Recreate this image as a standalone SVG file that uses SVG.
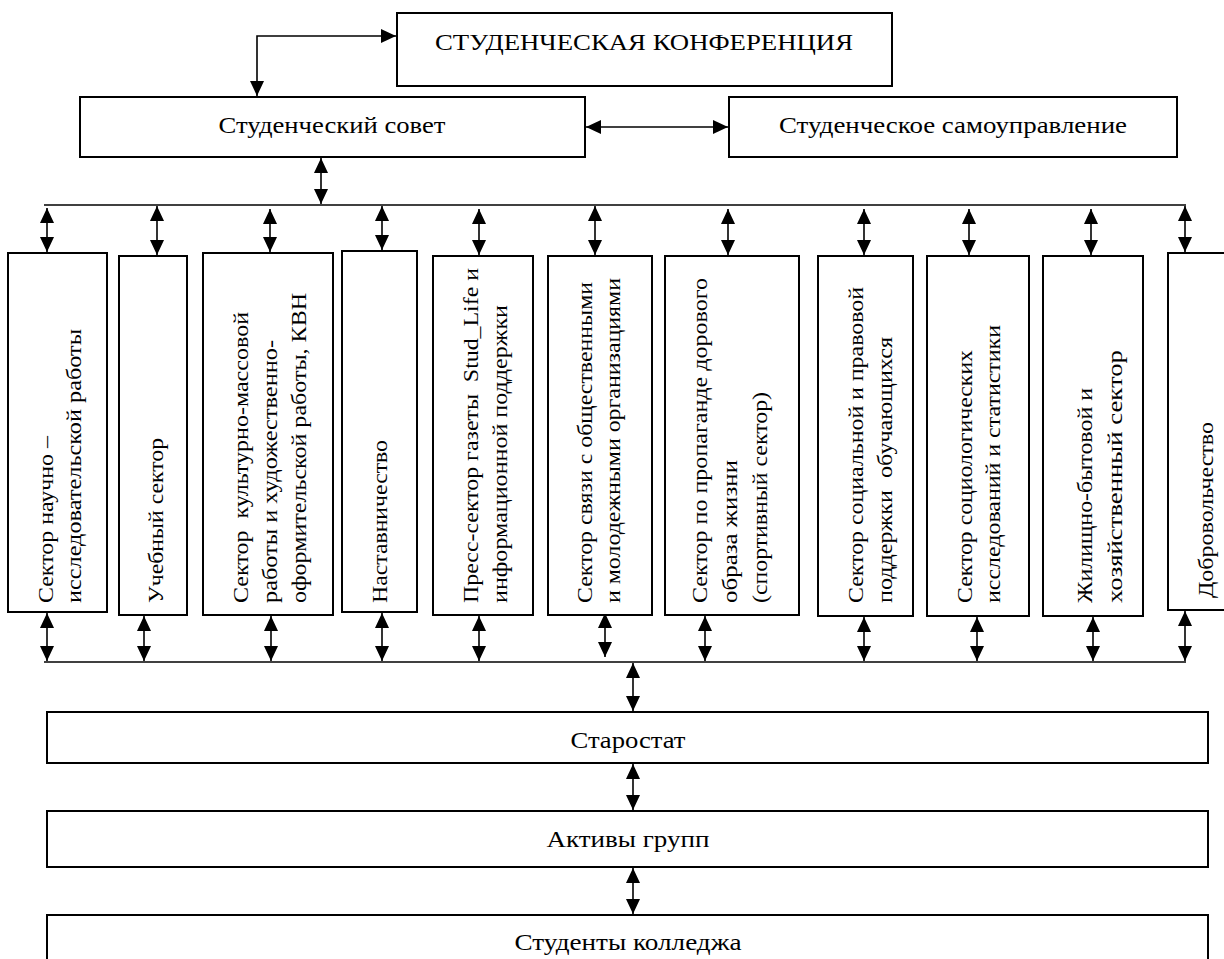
<svg xmlns="http://www.w3.org/2000/svg" width="1224" height="959" viewBox="0 0 1224 959">
<style>
.box{fill:#fff;stroke:#000;stroke-width:2}
.ln{fill:none;stroke:#000;stroke-width:1.6}
.ar{fill:none;stroke:#000;stroke-width:1.6;marker-start:url(#ah);marker-end:url(#ah)}
.h{font-family:"Liberation Serif","DejaVu Serif",serif;font-size:24px;fill:#000;text-anchor:middle}
.v{font-family:"Liberation Serif","DejaVu Serif",serif;font-size:22px;fill:#000;white-space:pre}
</style>
<defs>
<marker id="ah" markerUnits="userSpaceOnUse" viewBox="0 0 15 14" refX="15" refY="7" markerWidth="15" markerHeight="14" orient="auto-start-reverse">
<path d="M0,0 L15,7 L0,14 z" fill="#000"/>
</marker>
</defs>
<rect width="1224" height="959" fill="#fff"/>

<g id="connectors">
<path class="ar" d="M257,96 V36 H396"/>
<path class="ar" d="M586,127 H728"/>
<path class="ar" d="M321,158 V204"/>
<path class="ln" d="M44,205 H1186"/>
<path class="ar" d="M47,208 V252"/>
<path class="ar" d="M157,206 V255"/>
<path class="ar" d="M270,209 V252"/>
<path class="ar" d="M382,206 V250"/>
<path class="ar" d="M479,209 V255"/>
<path class="ar" d="M595,206 V255"/>
<path class="ar" d="M728,209 V255"/>
<path class="ar" d="M864,209 V255"/>
<path class="ar" d="M969,209 V255"/>
<path class="ar" d="M1091,209 V255"/>
<path class="ar" d="M1185,206 V252"/>
<path class="ar" d="M47,613 V661"/>
<path class="ar" d="M144,616 V661"/>
<path class="ar" d="M271,616 V661"/>
<path class="ar" d="M382,613 V661"/>
<path class="ar" d="M479,616 V661"/>
<path class="ar" d="M605,613 V657"/>
<path class="ar" d="M705,616 V661"/>
<path class="ar" d="M864,617 V661"/>
<path class="ar" d="M977,617 V661"/>
<path class="ar" d="M1093,617 V661"/>
<path class="ar" d="M1185,611 V661"/>
<path class="ln" d="M44,662 H1186"/>
<path class="ar" d="M633,663 V711"/>
<path class="ar" d="M633,764 V810"/>
<path class="ar" d="M633,868 V914"/>
</g>

<g id="n-conference">
<rect class="box" x="397" y="13" width="495" height="73"/>
<text class="h" x="644" y="50" textLength="418" lengthAdjust="spacingAndGlyphs">СТУДЕНЧЕСКАЯ КОНФЕРЕНЦИЯ</text>
</g>
<g id="n-council">
<rect class="box" x="80" y="97" width="505" height="60"/>
<text class="h" x="332" y="133" textLength="227" lengthAdjust="spacingAndGlyphs">Студенческий совет</text>
</g>
<g id="n-selfgov">
<rect class="box" x="729" y="97" width="448" height="60"/>
<text class="h" x="953" y="133" textLength="348" lengthAdjust="spacingAndGlyphs">Студенческое самоуправление</text>
</g>

<g id="n-s1">
<rect class="box" x="8" y="253" width="99" height="359"/>
<text class="v" transform="translate(53,603) rotate(-90)" textLength="167" lengthAdjust="spacingAndGlyphs">Сектор научно –</text>
<text class="v" transform="translate(81,603) rotate(-90)" textLength="274" lengthAdjust="spacingAndGlyphs">исследовательской работы</text>
</g>
<g id="n-s2">
<rect class="box" x="119" y="256" width="68" height="359"/>
<text class="v" transform="translate(163,603) rotate(-90)" textLength="165" lengthAdjust="spacingAndGlyphs">Учебный сектор</text>
</g>
<g id="n-s3">
<rect class="box" x="203" y="253" width="130" height="362"/>
<text class="v" transform="translate(248,603) rotate(-90)" textLength="291" lengthAdjust="spacingAndGlyphs">Сектор  культурно-массовой</text>
<text class="v" transform="translate(277,603) rotate(-90)" textLength="263" lengthAdjust="spacingAndGlyphs">работы и художественно-</text>
<text class="v" transform="translate(306,603) rotate(-90)" textLength="310" lengthAdjust="spacingAndGlyphs">оформительской работы, КВН</text>
</g>
<g id="n-s4">
<rect class="box" x="342" y="251" width="75" height="361"/>
<text class="v" transform="translate(387,603) rotate(-90)" textLength="163" lengthAdjust="spacingAndGlyphs">Наставничество</text>
</g>
<g id="n-s5">
<rect class="box" x="433" y="256" width="100" height="359"/>
<text class="v" transform="translate(478,603) rotate(-90)" textLength="335" lengthAdjust="spacingAndGlyphs">Пресс-сектор газеты  Stud_Life и</text>
<text class="v" transform="translate(507,603) rotate(-90)" textLength="298" lengthAdjust="spacingAndGlyphs">информационной поддержки</text>
</g>
<g id="n-s6">
<rect class="box" x="548" y="256" width="104" height="359"/>
<text class="v" transform="translate(592,603) rotate(-90)" textLength="321" lengthAdjust="spacingAndGlyphs">Сектор связи с общественными</text>
<text class="v" transform="translate(620,603) rotate(-90)" textLength="325" lengthAdjust="spacingAndGlyphs">и молодежными организациями</text>
</g>
<g id="n-s7">
<rect class="box" x="665" y="256" width="134" height="359"/>
<text class="v" transform="translate(707,603) rotate(-90)" textLength="325" lengthAdjust="spacingAndGlyphs">Сектор по пропаганде дорового</text>
<text class="v" transform="translate(737,603) rotate(-90)" textLength="143" lengthAdjust="spacingAndGlyphs">образа жизни</text>
<text class="v" transform="translate(767,603) rotate(-90)" textLength="211" lengthAdjust="spacingAndGlyphs">(спортивный сектор)</text>
</g>
<g id="n-s8">
<rect class="box" x="818" y="256" width="95" height="360"/>
<text class="v" transform="translate(863,603) rotate(-90)" textLength="316" lengthAdjust="spacingAndGlyphs">Сектор социальной и правовой</text>
<text class="v" transform="translate(892,603) rotate(-90)" textLength="266" lengthAdjust="spacingAndGlyphs">поддержки  обучающихся</text>
</g>
<g id="n-s9">
<rect class="box" x="927" y="256" width="102" height="360"/>
<text class="v" transform="translate(972,603) rotate(-90)" textLength="253" lengthAdjust="spacingAndGlyphs">Сектор социологических</text>
<text class="v" transform="translate(1000,603) rotate(-90)" textLength="278" lengthAdjust="spacingAndGlyphs">исследований и статистики</text>
</g>
<g id="n-s10">
<rect class="box" x="1043" y="256" width="100" height="360"/>
<text class="v" transform="translate(1092,603) rotate(-90)" textLength="215" lengthAdjust="spacingAndGlyphs">Жилищно-бытовой и</text>
<text class="v" transform="translate(1122,603) rotate(-90)" textLength="253" lengthAdjust="spacingAndGlyphs">хозяйственный сектор</text>
</g>
<g id="n-s11">
<rect class="box" x="1168" y="253" width="80" height="357"/>
<text class="v" transform="translate(1213,598) rotate(-90)" textLength="176" lengthAdjust="spacingAndGlyphs">Добровольчество</text>
</g>

<g id="n-starostat">
<rect class="box" x="47" y="712" width="1161" height="51"/>
<text class="h" x="628" y="748" textLength="115" lengthAdjust="spacingAndGlyphs">Старостат</text>
</g>
<g id="n-aktivy">
<rect class="box" x="47" y="811" width="1161" height="56"/>
<text class="h" x="628" y="847" textLength="163" lengthAdjust="spacingAndGlyphs">Активы групп</text>
</g>
<g id="n-students">
<rect class="box" x="47" y="915" width="1161" height="60"/>
<text class="h" x="628" y="950" textLength="227" lengthAdjust="spacingAndGlyphs">Студенты колледжа</text>
</g>
</svg>
